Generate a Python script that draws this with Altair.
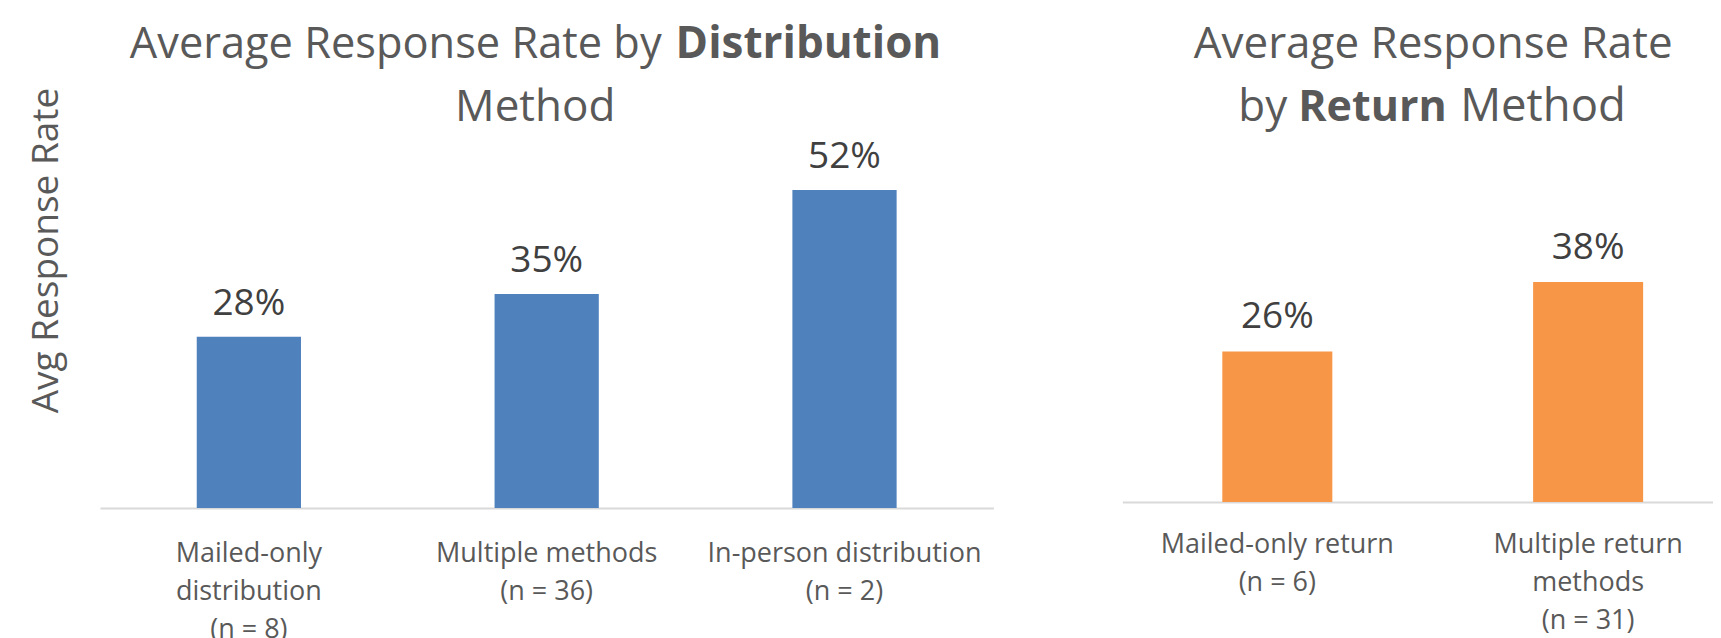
import altair as alt
import pandas as pd

# ---- data ----
dist_categories = ["Mailed-only\ndistribution\n(n = 8)", "Multiple methods\n(n = 36)", "In-person distribution\n(n = 2)"]
dist_values = [0.28, 0.35, 0.52]
return_categories = ["Mailed-only return\n(n = 6)", "Multiple return\nmethods\n(n = 31)"]
return_values = [0.26, 0.38]

y_title = "Avg Response Rate"
left_title = ["Average Response Rate by", "Distribution", "Method"]
right_title = ["Average Response Rate", "by", "Return", "Method"]

FONT = "Open Sans"
GREY = "#595959"
DARK = "#404040"
BLUE = "#4F81BD"
ORANGE = "#F79646"

df_left = pd.DataFrame({"cat": dist_categories, "val": dist_values})
df_right = pd.DataFrame({"cat": return_categories, "val": return_values})


def piece(text, x, y, align, bold=False, size=44):
    return alt.Chart(pd.DataFrame({"t": [text]})).mark_text(
        align=align, baseline="alphabetic", fontSize=size, font=FONT,
        fontWeight="bold" if bold else "normal", color=GREY
    ).encode(x=alt.value(x), y=alt.value(y), text="t:N")


def xaxis(pad):
    return alt.Axis(
        title=None, ticks=False, labelAngle=0, labelFontSize=27, labelFont=FONT,
        labelColor=GREY, labelPadding=pad, labelBaseline="top", labelLineHeight=38,
        labelExpr="split(datum.label, '\\n')", labelLimit=0, labelOverlap=False,
        domainColor="#D9D9D9", domainWidth=2, grid=False
    )


# ---- left panel ----
LW, LH = 894, 367
lx = alt.X("cat:N", sort=dist_categories,
           scale=alt.Scale(paddingInner=0.65, paddingOuter=0.325), axis=xaxis(33))
ly = alt.Y("val:Q", scale=alt.Scale(domain=[0, 0.6], nice=False),
           axis=alt.Axis(domain=False, ticks=False, labels=False, grid=False,
                         title=y_title, titleFont=FONT, titleFontSize=37,
                         titleFontWeight="normal", titleColor=GREY, titleAngle=270,
                         titleX=-42, titleY=109, titleAlign="center",
                         titleBaseline="alphabetic"))
lbase = alt.Chart(df_left)
lbars = lbase.mark_bar(color=BLUE).encode(x=lx, y=ly)
llabels = lbase.mark_text(dy=-22, baseline="alphabetic", fontSize=37, font=FONT,
                          color=DARK).encode(x=lx, y=ly, text=alt.Text("val:Q", format=".0%"))
left = alt.layer(
    lbars, llabels,
    piece(left_title[0], 562, -83, "right", size=43.4),
    piece(left_title[1], 576, -83, "left", bold=True),
    piece(left_title[2], 435.5, -20, "center"),
).properties(width=LW, height=LH)

# ---- right panel ----
RW, RH = 591, 361
rx = alt.X("cat:N", sort=return_categories,
           scale=alt.Scale(paddingInner=0.646, paddingOuter=0.2732, align=0.5886),
           axis=xaxis(30))
ry = alt.Y("val:Q", scale=alt.Scale(domain=[0, 361 / 579], nice=False), axis=None)
rbase = alt.Chart(df_right)
rbars = rbase.mark_bar(color=ORANGE).encode(x=rx, y=ry)
rlabels = rbase.mark_text(dy=-23, baseline="alphabetic", fontSize=37, font=FONT,
                          color=DARK).encode(x=rx, y=ry, text=alt.Text("val:Q", format=".0%"))
right = alt.layer(
    rbars, rlabels,
    piece(right_title[0], 311, -83, "center"),
    piece(right_title[1], 165, -20, "right"),
    piece(right_title[2], 176, -20, "left", bold=True, size=43),
    piece(right_title[3], 338, -20, "left", size=45.5),
).properties(width=RW, height=RH)

chart = alt.hconcat(left, right, spacing=129).properties(
    padding={"left": 19, "top": 15, "right": 0, "bottom": 0},
    background="white",
).configure_view(stroke=None)

chart.save("out.html", embed_options={"renderer": "svg", "actions": False})
